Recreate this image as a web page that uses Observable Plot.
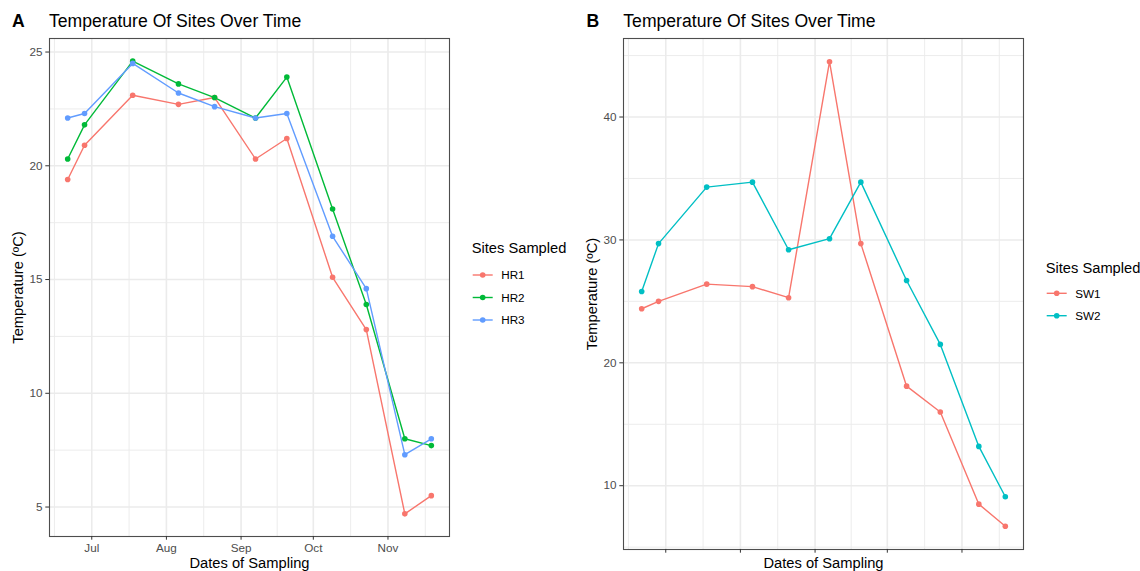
<!DOCTYPE html>
<html>
<head>
<meta charset="utf-8">
<script src="https://cdn.jsdelivr.net/npm/d3@7"></script>
<script src="https://cdn.jsdelivr.net/npm/@observablehq/plot@0.6"></script>
<style>
  html, body { margin: 0; padding: 0; background: #fff; }
  #root { position: relative; width: 1140px; height: 571px; overflow: hidden; background: #fff;
          font-family: "Liberation Sans", Arial, Helvetica, sans-serif; }
  .abs { position: absolute; }
  .tag { font-weight: bold; font-size: 17.6px; color: #000; line-height: 20px; }
  .ttl { font-size: 17.6px; color: #000; white-space: nowrap; line-height: 20px; }
</style>
</head>
<body>
<div id="root"></div>
<script>
// ---------------- data ----------------
const sampleDates = ["2021-06-21","2021-06-28","2021-07-18","2021-08-06","2021-08-21","2021-09-07",
                     "2021-09-20","2021-10-09","2021-10-23","2021-11-08","2021-11-19"];
const sitesA = ["HR1", "HR2", "HR3"];
const HR1 = [19.4, 20.9, 23.1, 22.7, 23.0, 20.3, 21.2, 15.1, 12.8, 4.7, 5.5];
const HR2 = [20.3, 21.8, 24.6, 23.6, 23.0, 22.1, 23.9, 18.1, 13.9, 8.0, 7.7];
const HR3 = [22.1, 22.3, 24.5, 23.2, 22.6, 22.1, 22.3, 16.9, 14.6, 7.3, 8.0];
const sitesB = ["SW1", "SW2"];
const SW1 = [24.4, 25.0, 26.4, 26.2, 25.3, 44.5, 29.7, 18.1, 16.0, 8.5, 6.7];
const SW2 = [25.8, 29.7, 34.3, 34.7, 29.2, 30.1, 34.7, 26.7, 21.5, 13.2, 9.1];
const colorsA = ["#F8766D", "#00BA38", "#619CFF"];
const colorsB = ["#F8766D", "#00BFC4"];
const monthTicks = ["2021-07-01","2021-08-01","2021-09-01","2021-10-01","2021-11-01"];
const yTicksA = [5, 10, 15, 20, 25];
const yMinorA = [7.5, 12.5, 17.5, 22.5];
const yTicksB = [10, 20, 30, 40];
const yMinorB = [5, 15, 25, 35, 45];
const titleText = "Temperature Of Sites Over Time";
const xTitle = "Dates of Sampling";
const yTitle = "Temperature (ºC)";
const legendTitle = "Sites Sampled";

// ---------------- helpers ----------------
const parse = d3.utcParse("%Y-%m-%d");
const dates = sampleDates.map(parse);
const majors = monthTicks.map(parse);
const minors = [];
minors.push(new Date(+majors[0] - (majors[1] - majors[0]) / 2));
for (let i = 0; i < majors.length - 1; i++) minors.push(new Date((+majors[i] + +majors[i + 1]) / 2));
minors.push(new Date(+majors[majors.length - 1] + (majors[majors.length - 1] - majors[majors.length - 2]) / 2));

function rows(sites, series) {
  const out = [];
  sites.forEach((s, k) => series[k].forEach((v, i) => out.push({site: s, date: dates[i], temp: v})));
  return out;
}
function expand(ext) { const d = (ext[1] - ext[0]) * 0.05; return [ext[0] - d, ext[1] + d]; }

const FONT = '"Liberation Sans", Arial, Helvetica, sans-serif';
const root = document.getElementById("root");

function panel({data, sites, colors, yTicks, yMinor, left, width, mL, mR, mB, showXLabels, yTitleX}) {
  const xd = d3.extent(data, d => d.date);
  const xDomain = expand([+xd[0], +xd[1]]).map(t => new Date(t));
  const yDomain = expand(d3.extent(data, d => d.temp));
  const chart = Plot.plot({
    width, height: 571,
    marginLeft: mL, marginRight: mR, marginTop: 38, marginBottom: mB,
    style: {fontFamily: FONT, background: "transparent", overflow: "visible"},
    x: {type: "utc", domain: xDomain},
    y: {domain: yDomain},
    color: {domain: sites, range: colors},
    marks: [
      Plot.ruleX(minors, {stroke: "#EBEBEB", strokeWidth: 0.95}),
      Plot.ruleY(yMinor, {stroke: "#EBEBEB", strokeWidth: 0.95}),
      Plot.ruleX(majors, {stroke: "#EBEBEB", strokeWidth: 1.6}),
      Plot.ruleY(yTicks, {stroke: "#EBEBEB", strokeWidth: 1.6}),
      Plot.frame({stroke: "#4d4d4d", strokeWidth: 1.1}),
      Plot.axisY({ticks: yTicks, tickSize: 3.7, tickPadding: 3.3, fontSize: 11.7,
                  fill: "#4D4D4D", stroke: "#333333", label: null}),
      Plot.axisX({ticks: majors, tickSize: 3.7, tickPadding: 3.7, fontSize: 11.7,
                  fill: "#4D4D4D", stroke: "#333333", label: null,
                  tickFormat: showXLabels ? d3.utcFormat("%b") : () => ""}),
      Plot.line(data, {x: "date", y: "temp", z: "site", stroke: "site", strokeWidth: 1.4}),
      Plot.dot(data, {x: "date", y: "temp", fill: "site", r: 2.8}),
      Plot.text([yTitle], {frameAnchor: "left", dx: -(mL - yTitleX), rotate: -90,
                           fontSize: 14.7, fill: "#000", textAnchor: "middle", lineAnchor: "middle"}),
      Plot.text([xTitle], {frameAnchor: "bottom", dy: 562.3 - (571 - mB),
                           fontSize: 14.7, fill: "#000", textAnchor: "middle", lineAnchor: "middle"})
    ]
  });
  chart.style.position = "absolute";
  chart.style.left = left + "px";
  chart.style.top = "0px";
  root.appendChild(chart);
}

function legend({x, yTitleBase, ys, sites, colors}) {
  const svg = d3.select(root).append("svg").attr("class", "abs")
    .style("left", "0px").style("top", "0px").attr("width", 1140).attr("height", 571)
    .style("pointer-events", "none").style("font-family", FONT);
  svg.append("text").attr("x", x).attr("y", yTitleBase).attr("font-size", 14.7).attr("fill", "#000").text(legendTitle);
  sites.forEach((s, i) => {
    const g = svg.append("g");
    g.append("line").attr("x1", x + 1).attr("x2", x + 21).attr("y1", ys[i]).attr("y2", ys[i])
      .attr("stroke", colors[i]).attr("stroke-width", 1.4);
    g.append("circle").attr("cx", x + 11).attr("cy", ys[i]).attr("r", 2.8).attr("fill", colors[i]);
    g.append("text").attr("x", x + 29.5).attr("y", ys[i] + 4.2).attr("font-size", 11.7).attr("fill", "#000").text(s);
  });
}

function titles(tagText, tagX, titleX) {
  const t = document.createElement("div");
  t.className = "abs tag"; t.textContent = tagText;
  t.style.left = tagX + "px"; t.style.top = "10.5px";
  root.appendChild(t);
  const h = document.createElement("div");
  h.className = "abs ttl"; h.textContent = titleText;
  h.style.left = titleX + "px"; h.style.top = "10.5px";
  root.appendChild(h);
}

// ---------------- panels ----------------
const dataA = rows(sitesA, [HR1, HR2, HR3]);
const dataB = rows(sitesB, [SW1, SW2]);

panel({data: dataA, sites: sitesA, colors: colorsA, yTicks: yTicksA, yMinor: yMinorA,
       left: 0, width: 460, mL: 49, mR: 11, mB: 35, showXLabels: true, yTitleX: 18});
panel({data: dataB, sites: sitesB, colors: colorsB, yTicks: yTicksB, yMinor: yMinorB,
       left: 570, width: 460, mL: 53, mR: 7, mB: 22, showXLabels: false, yTitleX: 21.7});

legend({x: 471.7, yTitleBase: 253.3, ys: [275, 297.5, 320], sites: sitesA, colors: colorsA});
legend({x: 1045.7, yTitleBase: 272.7, ys: [293.3, 315.7], sites: sitesB, colors: colorsB});

titles("A", 12, 49);
titles("B", 586.5, 623.3);
</script>
</body>
</html>
